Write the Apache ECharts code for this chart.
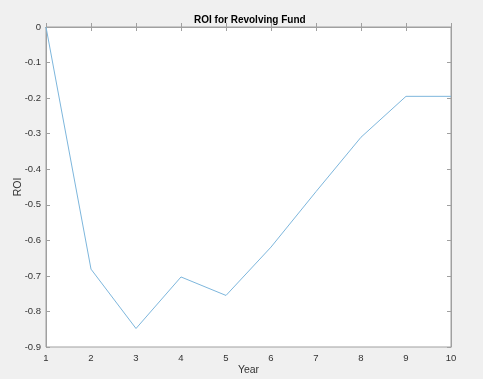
<!DOCTYPE html>
<html>
<head>
<meta charset="utf-8">
<script src="https://cdn.jsdelivr.net/npm/echarts@6/dist/echarts.min.js"></script>
<style>
  html, body { margin: 0; padding: 0; background: #f0f0f0; }
  #chart { width: 483px; height: 379px; }
</style>
</head>
<body>
<div id="chart"></div>
<script>
// ROI data
const years = [1, 2, 3, 4, 5, 6, 7, 8, 9, 10];
const roi = [0, -0.681, -0.848, -0.703, -0.755, -0.619, -0.463, -0.31, -0.195, -0.195];

const points = years.map((y, i) => [y, roi[i]]);

const axisColor = '#333333';
const lineColor = '#a0a0a0';
const font = 'Liberation Sans, Arial';

const chart = echarts.init(document.getElementById('chart'));
chart.setOption({
    backgroundColor: '#f0f0f0',
    animation: false,
    title: {
        text: 'ROI for Revolving Fund',
        left: 194,
        top: 15,
        padding: 0,
        textStyle: { fontSize: 10, fontWeight: 'bold', color: '#000', fontFamily: font },
    },
    grid: {
        left: 46,
        top: 27,
        width: 405,
        height: 320,
        outerBoundsMode: 'none',
        containLabel: false,
        show: true,
        backgroundColor: '#fff',
        borderColor: lineColor,
        borderWidth: 1,
    },
    xAxis: [
        {
            type: 'value',
            min: 1,
            max: 10,
            interval: 1,
            name: 'Year',
            nameLocation: 'middle',
            nameGap: 18,
            nameMoveOverlap: false,
            nameTextStyle: { fontSize: 10.5, color: axisColor, fontFamily: font },
            splitLine: { show: false },
            axisLine: { lineStyle: { color: lineColor } },
            axisTick: { inside: true, length: 4, lineStyle: { color: lineColor } },
            axisLabel: { fontSize: 9.5, color: axisColor, margin: 6, fontFamily: font },
        },
        {
            type: 'value',
            position: 'top',
            min: 1,
            max: 10,
            interval: 1,
            splitLine: { show: false },
            axisLine: { lineStyle: { color: lineColor } },
            axisTick: { inside: true, length: 4, lineStyle: { color: lineColor } },
            axisLabel: { show: false },
        },
    ],
    yAxis: [
        {
            type: 'value',
            min: -0.9,
            max: 0,
            interval: 0.1,
            name: 'ROI',
            nameLocation: 'middle',
            nameGap: 22,
            nameMoveOverlap: false,
            nameTextStyle: { fontSize: 10.5, color: axisColor, fontFamily: font },
            splitLine: { show: false },
            axisLine: { show: true, lineStyle: { color: lineColor } },
            axisTick: { show: true, inside: true, length: 4, lineStyle: { color: lineColor } },
            axisLabel: {
                fontSize: 9.5,
                color: axisColor,
                margin: 5,
                fontFamily: font,
                formatter: (v) => (Math.abs(v) < 1e-9 ? '0' : v.toFixed(1)),
            },
        },
        {
            type: 'value',
            position: 'right',
            min: -0.9,
            max: 0,
            interval: 0.1,
            splitLine: { show: false },
            axisLine: { show: true, lineStyle: { color: lineColor } },
            axisTick: { show: true, inside: true, length: 4, lineStyle: { color: lineColor } },
            axisLabel: { show: false },
        },
    ],
    series: [
        {
            type: 'line',
            data: points,
            showSymbol: false,
            lineStyle: { color: '#7db6dc', width: 1 },
        },
    ],
});
</script>
</body>
</html>
